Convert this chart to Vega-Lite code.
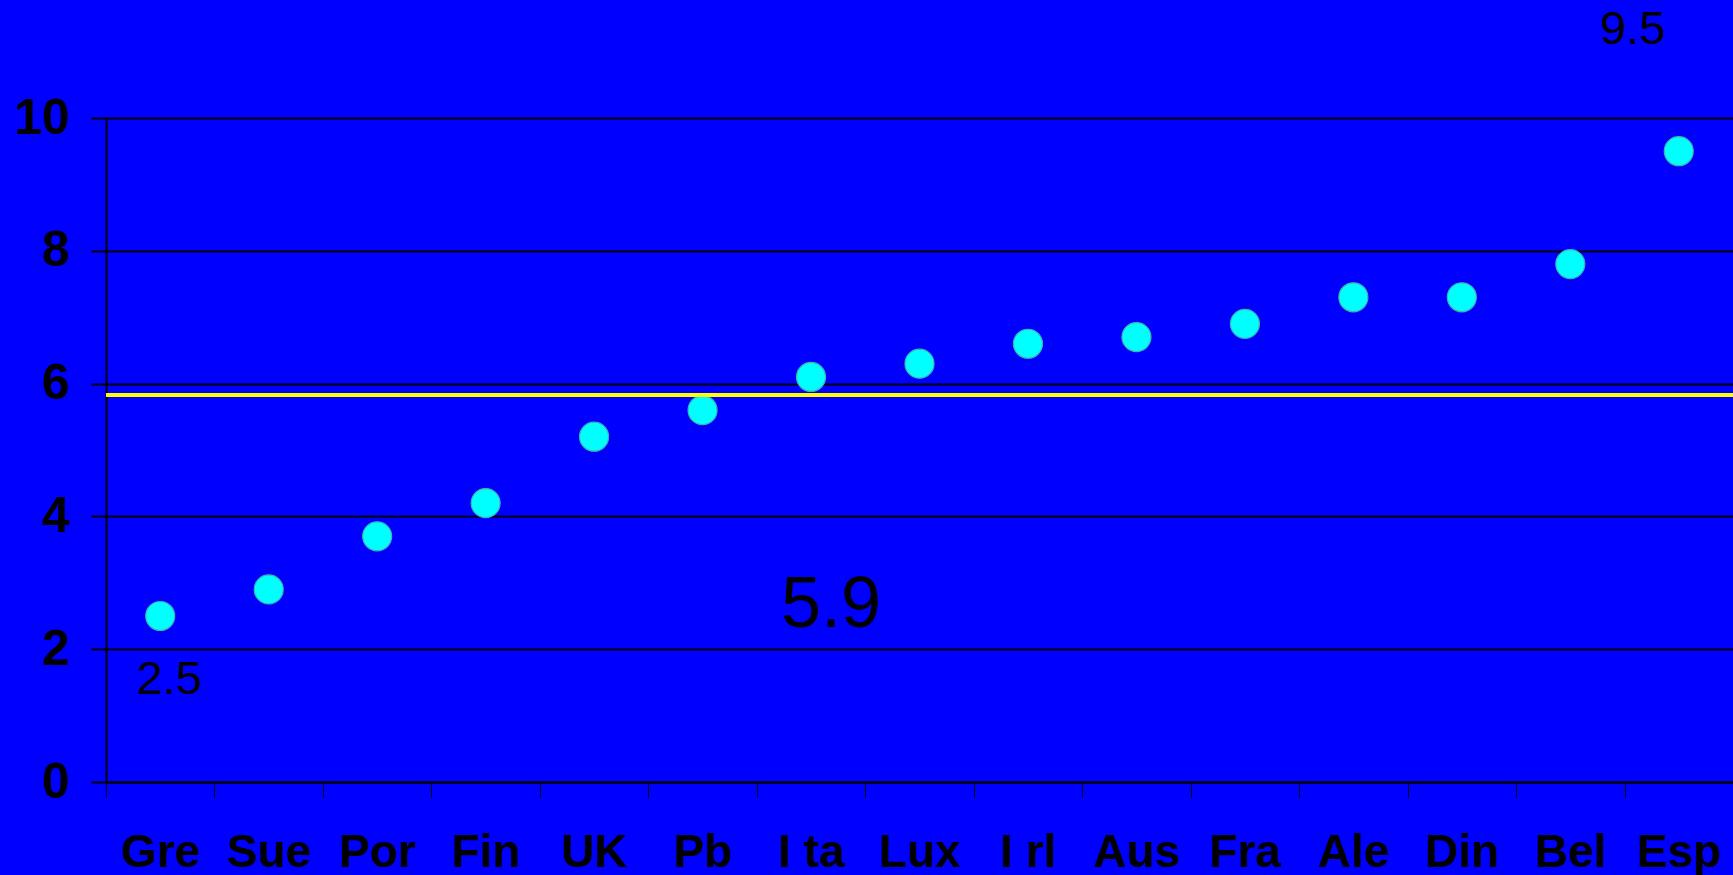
{
  "$schema": "https://vega.github.io/schema/vega-lite/v6.json",
  "autosize": "none",
  "width": 1627,
  "height": 664,
  "padding": {"left": 106, "top": 118, "right": 0, "bottom": 93},
  "background": "#0000FF",
  "config": {
    "view": {"stroke": null},
    "font": "Liberation Sans"
  },
  "datasets": {
    "paises": [
      {"pais": "Gre", "valor": 2.5},
      {"pais": "Sue", "valor": 2.9},
      {"pais": "Por", "valor": 3.7},
      {"pais": "Fin", "valor": 4.2},
      {"pais": "UK", "valor": 5.2},
      {"pais": "Pb", "valor": 5.6},
      {"pais": "I ta", "valor": 6.1},
      {"pais": "Lux", "valor": 6.3},
      {"pais": "I rl", "valor": 6.6},
      {"pais": "Aus", "valor": 6.7},
      {"pais": "Fra", "valor": 6.9},
      {"pais": "Ale", "valor": 7.3},
      {"pais": "Din", "valor": 7.3},
      {"pais": "Bel", "valor": 7.8},
      {"pais": "Esp", "valor": 9.5}
    ],
    "media": [{"valor": 5.83}],
    "etiquetas": [
      {"pais": "Esp", "y": 11.33, "texto": "9.5"},
      {"pais": "Gre", "y": 1.53, "texto": "2.5"},
      {"pais": "I ta", "y": 2.66, "texto": "5.9"}
    ]
  },
  "layer": [
    {
      "data": {"name": "paises"},
      "mark": {"type": "point", "shape": "circle", "filled": true, "size": 841, "fill": "#00FFFF", "stroke": "#3CB4B4", "strokeWidth": 1.2, "opacity": 1},
      "encoding": {
        "x": {
          "field": "pais", "type": "nominal",
          "scale": {"domain": ["Gre", "Sue", "Por", "Fin", "UK", "Pb", "I ta", "Lux", "I rl", "Aus", "Fra", "Ale", "Din", "Bel", "Esp"], "paddingInner": 0, "paddingOuter": 0},
          "axis": {
            "title": null, "labelAngle": 0, "tickBand": "extent",
            "domainColor": "black", "domainWidth": 2,
            "tickColor": "black", "tickWidth": 1, "tickSize": 15,
            "labelFont": "Liberation Sans", "labelFontSize": 46, "labelFontWeight": "bold",
            "labelColor": "black", "labelBaseline": "middle", "labelPadding": 55,
            "grid": false
          }
        },
        "y": {
          "field": "valor", "type": "quantitative",
          "scale": {"domain": [0, 10], "nice": false, "zero": true},
          "axis": {
            "title": null, "values": [0, 2, 4, 6, 8, 10], "format": "d",
            "domainColor": "black", "domainWidth": 2,
            "tickColor": "black", "tickWidth": 2, "tickSize": 15,
            "grid": true, "gridColor": "black", "gridWidth": 2, "gridOpacity": 1,
            "labelFont": "Liberation Sans", "labelFontSize": 50, "labelFontWeight": "bold",
            "labelColor": "black", "labelPadding": 22
          }
        }
      }
    },
    {
      "data": {"name": "media"},
      "mark": {"type": "rule", "color": "#FFFF00", "strokeWidth": 4},
      "encoding": {"y": {"field": "valor", "type": "quantitative"}}
    },
    {
      "data": {"name": "etiquetas"},
      "transform": [{"filter": "datum.texto === '9.5'"}],
      "mark": {"type": "text", "fontSize": 47, "color": "black", "dx": -46, "align": "center", "baseline": "middle"},
      "encoding": {
        "x": {"field": "pais", "type": "nominal"},
        "y": {"field": "y", "type": "quantitative"},
        "text": {"field": "texto"}
      }
    },
    {
      "data": {"name": "etiquetas"},
      "transform": [{"filter": "datum.texto === '2.5'"}],
      "mark": {"type": "text", "fontSize": 47, "color": "black", "dx": 9, "align": "center", "baseline": "middle"},
      "encoding": {
        "x": {"field": "pais", "type": "nominal"},
        "y": {"field": "y", "type": "quantitative"},
        "text": {"field": "texto"}
      }
    },
    {
      "data": {"name": "etiquetas"},
      "transform": [{"filter": "datum.texto === '5.9'"}],
      "mark": {"type": "text", "fontSize": 72, "color": "black", "dx": 20, "align": "center", "baseline": "middle"},
      "encoding": {
        "x": {"field": "pais", "type": "nominal"},
        "y": {"field": "y", "type": "quantitative"},
        "text": {"field": "texto"}
      }
    }
  ]
}
